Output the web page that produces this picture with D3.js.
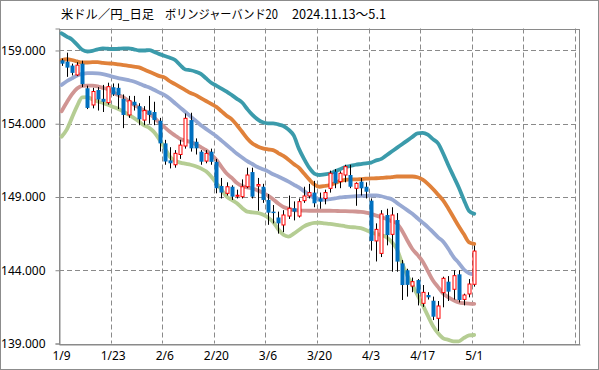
<!DOCTYPE html>
<html>
<head>
<meta charset="utf-8">
<script src="https://cdn.jsdelivr.net/npm/d3@7"></script>
<style>
  body { margin: 0; background: #fff; }
  svg { display: block; }
  text { font-family: "Noto Sans CJK JP", "Noto Sans", sans-serif; fill: #000; }
</style>
</head>
<body>
<svg width="599" height="370"></svg>
<script>
// x axis: one slot per trading day, 20 blank slots after 5/1
const slotCount = 101;
const tickLabels = ['1/9', '1/23', '2/6', '2/20', '3/6', '3/20', '4/3', '4/17', '5/1'];
const yTicks = [139, 144, 149, 154, 159];

// daily candles 1/9 .. 5/1 (81 days)
const open = [158.33,158.24,157.97,157.33,158.1,156.42,155.28,156.3,155.7,155.44,
  156.49,156.45,155.7,154.6,155.5,155.2,154.25,154.9,154.8,154.2,
  152.66,151.5,151.2,151.9,152.48,154.25,152.77,152.09,151.45,152.09,
  151.4,149.75,149.25,149.7,149.05,149.02,149.7,150.7,149.75,149.7,
  148.8,148.0,147.6,147.09,147.7,148.23,147.7,148.75,149.07,149.3,
  148.9,148.9,149.59,150.73,150.05,150.5,150.5,149.59,150.05,149.7,
  148.75,146.0,145.15,147.77,146.45,147.43,144.47,144.0,142.92,143.33,
  141.74,142.31,141.92,140.72,142.47,143.22,142.7,143.72,142.01,142.38,
  143.04];
const high = [158.45,158.85,158.1,158.2,158.3,156.6,156.45,156.5,156.65,156.8,
  156.75,156.75,156.0,155.9,155.9,155.4,155.2,155.9,155.5,154.4,
  152.9,152.4,152.2,152.9,154.7,154.75,153.0,152.2,152.2,152.3,
  151.6,150.3,150.0,149.8,149.5,150.2,151.0,151.0,150.3,149.9,
  149.2,148.45,148.0,148.1,149.1,148.7,148.9,149.7,149.9,150.1,
  149.3,149.5,150.8,150.9,150.75,151.2,151.2,150.0,150.3,150.0,
  148.9,147.2,148.1,148.2,148.3,147.9,144.7,144.1,143.5,143.4,
  142.99,142.5,142.2,141.9,143.56,143.6,144.0,144.0,142.4,143.4,
  145.68];
const low = [157.95,157.2,157.3,157.25,156.5,155.0,155.05,154.9,154.8,155.3,
  155.9,155.0,153.7,154.4,154.9,153.9,153.9,154.0,153.9,152.1,
  151.2,150.95,151.0,151.6,152.3,152.1,151.9,151.2,151.3,151.2,
  149.25,148.9,149.1,148.8,148.9,148.9,149.6,148.9,148.06,148.6,
  147.1,147.2,146.5,146.6,147.5,147.4,147.6,148.6,148.9,148.3,
  148.2,148.5,149.3,149.6,149.6,150.0,149.6,148.4,149.1,148.9,
  145.34,144.6,144.9,145.7,143.9,143.9,141.97,142.2,142.5,141.6,
  141.5,142.0,140.6,139.85,141.47,141.9,142.0,141.8,141.6,142.15,
  142.88];
const close = [158.1,157.83,157.47,158.0,156.7,155.08,156.2,155.65,155.5,156.53,
  156.0,155.95,154.6,155.57,155.25,154.3,154.9,154.6,154.25,152.66,
  151.42,151.3,151.98,152.54,154.37,152.32,152.32,151.41,151.98,151.4,
  149.6,149.3,149.7,149.02,149.12,149.7,150.5,149.02,149.85,148.8,
  147.93,147.9,147.2,147.77,148.23,148.0,148.68,149.07,149.3,148.57,
  148.68,149.3,150.62,149.93,150.62,151.07,149.7,149.93,149.59,149.36,
  146.0,146.79,147.84,146.4,147.77,144.59,142.99,143.0,143.22,142.42,
  142.49,142.15,140.83,141.56,143.45,142.54,143.63,141.97,142.31,143.06,
  145.31];

// Bollinger band lines (20 day)
const upper2 = [160.17,159.95,159.75,159.4,159.05,158.93,158.98,159.08,159.15,159.12,
  159.1,159.12,159.15,159.15,159.08,159.0,159.0,159.03,158.9,158.75,
  158.62,158.5,158.35,158.0,157.7,157.65,157.55,157.4,157.1,156.8,
  156.6,156.4,156.19,155.95,155.7,155.45,155.0,154.6,154.3,154.1,
  154.03,154.03,153.95,153.85,153.6,153.2,152.3,151.6,151.0,150.6,
  150.5,150.55,150.6,150.75,150.9,151.05,151.12,151.2,151.25,151.3,
  151.35,151.5,151.6,151.85,152.1,152.35,152.6,152.85,153.1,153.35,
  153.38,153.25,152.95,152.65,151.95,151.15,150.4,149.65,148.8,148.05,
  147.85];
const upper1 = [158.35,158.4,158.35,158.25,158.18,158.18,158.2,158.2,158.15,158.12,
  158.1,158.05,158.0,157.95,157.9,157.85,157.7,157.55,157.4,157.25,
  157.15,156.9,156.7,156.5,156.3,156.1,155.95,155.75,155.55,155.35,
  155.15,154.85,154.55,154.3,153.9,153.45,153.0,152.65,152.45,152.32,
  152.25,152.2,152.0,151.8,151.55,151.25,151.0,150.6,150.2,149.85,
  149.7,149.75,149.82,149.95,150.1,150.17,150.2,150.2,150.22,150.25,
  150.27,150.28,150.3,150.33,150.36,150.4,150.4,150.4,150.4,150.35,
  150.18,149.9,149.55,149.15,148.75,148.2,147.6,147.0,146.45,145.9,
  145.8];
const middle = [156.65,156.9,157.1,157.3,157.4,157.45,157.45,157.43,157.38,157.3,
  157.2,157.12,157.05,156.97,156.88,156.75,156.6,156.47,156.3,156.12,
  155.95,155.7,155.4,155.1,154.8,154.5,154.2,153.9,153.65,153.4,
  153.15,152.85,152.55,152.25,151.95,151.7,151.45,151.25,151.05,150.9,
  150.75,150.55,150.4,150.23,150.05,149.85,149.65,149.4,149.15,148.95,
  148.85,148.8,148.85,148.9,148.97,149.0,149.03,149.05,149.07,149.08,
  149.1,149.1,149.05,148.95,148.85,148.6,148.35,148.1,147.85,147.55,
  147.25,146.95,146.6,146.25,145.95,145.45,144.9,144.5,144.05,143.8,
  143.72];
const lower1 = [154.85,155.45,156.0,156.4,156.58,156.6,156.6,156.55,156.45,156.35,
  156.15,155.95,155.8,155.55,155.3,155.1,154.9,154.7,154.4,154.05,
  153.75,153.45,153.2,152.96,152.85,152.75,152.6,152.4,152.2,151.9,
  151.55,151.05,150.6,150.3,149.95,149.75,149.65,149.58,149.45,149.3,
  149.1,148.85,148.55,148.32,148.2,148.1,148.08,148.07,148.06,148.06,
  148.06,148.06,148.06,148.05,148.04,148.03,148.02,148.01,147.98,147.93,
  147.85,147.73,147.62,147.5,147.35,147.2,146.7,146.05,145.45,145.05,
  144.6,143.95,143.3,142.85,142.4,142.15,141.95,141.8,141.75,141.72,
  141.7];
const lower2 = [153.12,153.6,154.4,155.2,155.8,155.82,155.65,155.52,155.42,155.3,
  155.15,155.0,154.82,154.62,154.4,154.15,153.88,153.72,153.4,152.9,
  152.35,151.75,151.48,151.35,151.27,151.2,151.1,150.95,150.75,150.4,
  149.95,149.5,149.02,148.8,148.57,148.25,148.0,147.95,147.92,147.8,
  147.6,147.3,146.8,146.42,146.3,146.5,146.75,147.0,147.15,147.23,
  147.24,147.2,147.17,147.12,147.06,147.0,146.95,146.92,146.87,146.75,
  146.58,146.48,146.4,146.25,145.92,145.45,144.5,143.65,143.0,142.3,
  141.63,140.9,140.2,139.7,139.35,139.25,139.15,139.15,139.38,139.55,
  139.58];

const bands = [
  { values: upper2, color: '#3b9bab' },
  { values: upper1, color: '#e0813a' },
  { values: middle, color: '#98a9d3' },
  { values: lower1, color: '#d09593' },
  { values: lower2, color: '#b5cd93' }
];

const svg = d3.select('svg');
const plot = { left: 59, right: 580, top: 28.5, bottom: 343.5 };
const gridColor = '#8a8a8a';

// outer frame
svg.append('rect')
  .attr('x', 0.5).attr('y', 0.5)
  .attr('width', 598).attr('height', 369)
  .attr('fill', 'none').attr('stroke', '#8c8c8c');

// title
const title = svg.append('text').attr('y', 19).style('font-size', '12.5px');
title.append('tspan').attr('x', 61).attr('textLength', 93).attr('lengthAdjust', 'spacingAndGlyphs').text('米ドル／円_日足');
title.append('tspan').attr('x', 165).attr('textLength', 113).attr('lengthAdjust', 'spacingAndGlyphs').text('ボリンジャーバンド20');
title.append('tspan').attr('x', 292).attr('textLength', 94).attr('lengthAdjust', 'spacingAndGlyphs').text('2024.11.13～5.1');

const x = d3.scaleBand()
  .domain(d3.range(slotCount))
  .range([plot.left, plot.right])
  .paddingInner(0).paddingOuter(0);
const cx = i => x(i) + x.bandwidth() / 2;

const y = d3.scaleLinear().domain([139, 160.5]).range([plot.bottom, plot.top]);

// grid
const grid = svg.append('g');
grid.selectAll('line.h')
  .data(yTicks.slice(1))
  .enter().append('line')
  .attr('x1', plot.left).attr('x2', plot.right)
  .attr('y1', d => Math.round(y(d)) + 0.5).attr('y2', d => Math.round(y(d)) + 0.5)
  .attr('stroke', gridColor).attr('stroke-dasharray', '5,3');
grid.selectAll('line.v')
  .data(d3.range(10, slotCount, 10))
  .enter().append('line')
  .attr('x1', d => Math.round(x(d)) + 0.5).attr('x2', d => Math.round(x(d)) + 0.5)
  .attr('y1', plot.top).attr('y2', plot.bottom)
  .attr('stroke', gridColor).attr('stroke-dasharray', '5,3');

// plot frame
svg.append('rect')
  .attr('x', plot.left + 0.5).attr('y', Math.round(plot.top) + 0.5)
  .attr('width', plot.right - plot.left - 1).attr('height', Math.round(plot.bottom) - Math.round(plot.top))
  .attr('fill', 'none').attr('stroke', gridColor);

// axes
const yAxis = svg.append('g')
  .attr('transform', `translate(${plot.left + 0.5},0)`)
  .call(d3.axisLeft(y).tickValues(yTicks).tickFormat(d3.format('.3f')).tickSize(4).tickPadding(10));
yAxis.select('.domain').attr('stroke', gridColor);
yAxis.selectAll('line').attr('stroke', gridColor);
yAxis.selectAll('text').style('font-size', '12px').style('font-family', '"Noto Sans", sans-serif');

const xAxis = svg.append('g')
  .attr('transform', `translate(0,${Math.round(plot.bottom) + 0.5})`)
  .call(d3.axisBottom(x).tickValues(d3.range(0, 81, 10)).tickFormat((d, i) => tickLabels[i]).tickSize(0).tickPadding(7));
xAxis.select('.domain').attr('stroke', gridColor);
xAxis.selectAll('text').style('font-size', '12px').style('font-family', '"Noto Sans", sans-serif');

// bollinger lines
const line = d3.line()
  .x((d, i) => cx(i))
  .y(d => y(d))
  .curve(d3.curveMonotoneX);

svg.append('g')
  .selectAll('path')
  .data(bands)
  .enter().append('path')
  .attr('d', d => line(d.values))
  .attr('fill', 'none')
  .attr('stroke', d => d.color)
  .attr('stroke-width', 3.8)
  .attr('stroke-linejoin', 'round')
  .attr('stroke-linecap', 'round');

// candles
const candles = open.map((o, i) => ({ i, o, h: high[i], l: low[i], c: close[i] }));
const candleG = svg.append('g')
  .selectAll('g')
  .data(candles)
  .enter().append('g');

candleG.append('line')
  .attr('x1', d => Math.round(cx(d.i)) + 0.5).attr('x2', d => Math.round(cx(d.i)) + 0.5)
  .attr('y1', d => y(d.h)).attr('y2', d => y(d.l))
  .attr('stroke', '#000').attr('stroke-width', 1);

candleG.append('rect')
  .attr('x', d => d.c >= d.o ? Math.round(cx(d.i)) - 1 : Math.round(cx(d.i)) - 1.5)
  .attr('width', d => d.c >= d.o ? 3 : 4)
  .attr('y', d => y(Math.max(d.o, d.c)))
  .attr('height', d => Math.max(1, Math.abs(y(d.o) - y(d.c))))
  .attr('fill', d => d.c >= d.o ? '#fff' : '#0070c0')
  .attr('stroke', d => d.c >= d.o ? '#ff0000' : 'none')
  .attr('stroke-width', 1);
</script>
</body>
</html>
